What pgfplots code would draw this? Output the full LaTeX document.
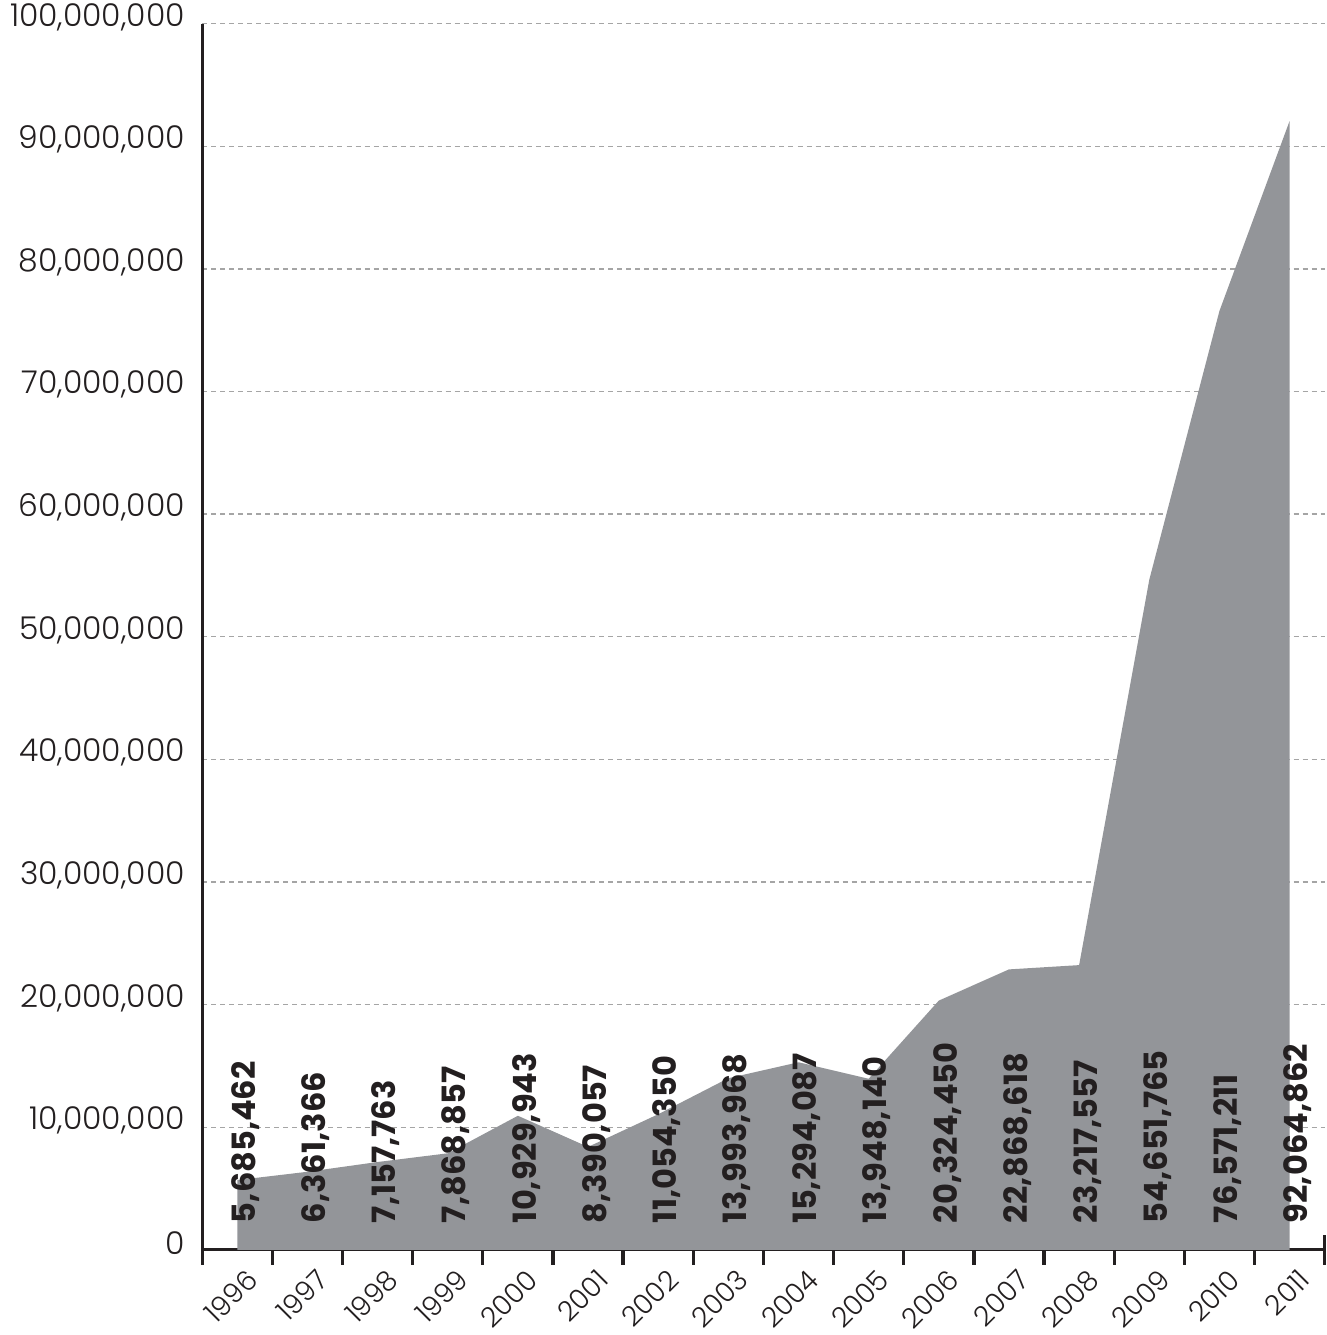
\documentclass[border=0pt]{standalone}
\usepackage{pgfplots}
\pgfplotsset{compat=1.18}
\usepackage{pgfplotstable}
\usepackage{fontspec}
\setmainfont{Poppins}
\IfFontExistsTF{Poppins Light}{\newfontfamily\lightfont{Poppins Light}}{\newfontfamily\lightfont{Poppins}}
\definecolor{areagray}{RGB}{147,149,153}
\definecolor{gridgray}{RGB}{165,165,165}
\definecolor{axisblack}{RGB}{35,31,32}

\pgfplotstableread{
x y label
0 5685462 5,685,462
1 6361366 6,361,366
2 7157763 7,157,763
3 7868857 7,868,857
4 10929943 10,929,943
5 8390057 8,390,057
6 11054350 11,054,350
7 13993968 13,993,968
8 15294087 15,294,087
9 13948140 13,948,140
10 20324450 20,324,450
11 22868618 22,868,618
12 23217557 23,217,557
13 54651765 54,651,765
14 76571211 76,571,211
15 92064862 92,064,862
}\visitors

\begin{document}
\begin{tikzpicture}
\begin{axis}[
  scale only axis,
  width=336pt, height=367pt,
  xmin=-0.5, xmax=15.5,
  ymin=0, ymax=100000000,
  axis x line=bottom, axis y line=left,
  axis line style={-, line width=1pt, axisblack},
  xtick={0,1,2,3,4,5,6,7,8,9,10,11,12,13,14,15},
  xticklabels={1996,1997,1998,1999,2000,2001,2002,2003,2004,2005,2006,2007,2008,2009,2010,2011},
  minor xtick={-0.5,0.5,1.5,2.5,3.5,4.5,5.5,6.5,7.5,8.5,9.5,10.5,11.5,12.5,13.5,14.5,15.5},
  major tick length=0pt,
  minor tick length=9pt,
  tick align=center,
  minor x tick style={line width=1pt, axisblack},
  ytick={0,10000000,20000000,30000000,40000000,50000000,60000000,70000000,80000000,90000000,100000000},
  scaled y ticks=false,
  /pgf/number format/fixed,
  /pgf/number format/1000 sep={,},
  /pgf/number format/assume math mode=true,
  yticklabel style={anchor=east, inner xsep=3pt, inner ysep=1pt, yshift=2pt, xshift=-2pt,
    text=axisblack, font=\lightfont\fontsize{9.4}{11}\selectfont},
  xticklabel style={rotate=45, anchor=north east, inner sep=1pt, xshift=-1pt, yshift=-4.3pt,
    text=axisblack, font=\lightfont\fontsize{8.3}{10}\selectfont},
  ymajorgrids,
  y grid style={gridgray, line width=0.4pt, dash pattern=on 1.5pt off 1.2pt},
  clip=false,
]
\addplot[fill=areagray, draw=none] table[x=x, y=y] {\visitors} \closedcycle;
\addplot[draw=none, mark=none, nodes near coords, point meta=explicit symbolic,
  every node near coord/.style={yshift=7.8pt, xshift=2.5pt, rotate=90, anchor=west, inner sep=0pt,
    text=axisblack, font=\bfseries\fontsize{9.6}{12}\selectfont}]
  table[x=x, y expr=0, meta=label] {\visitors};
\end{axis}
\end{tikzpicture}
\end{document}
